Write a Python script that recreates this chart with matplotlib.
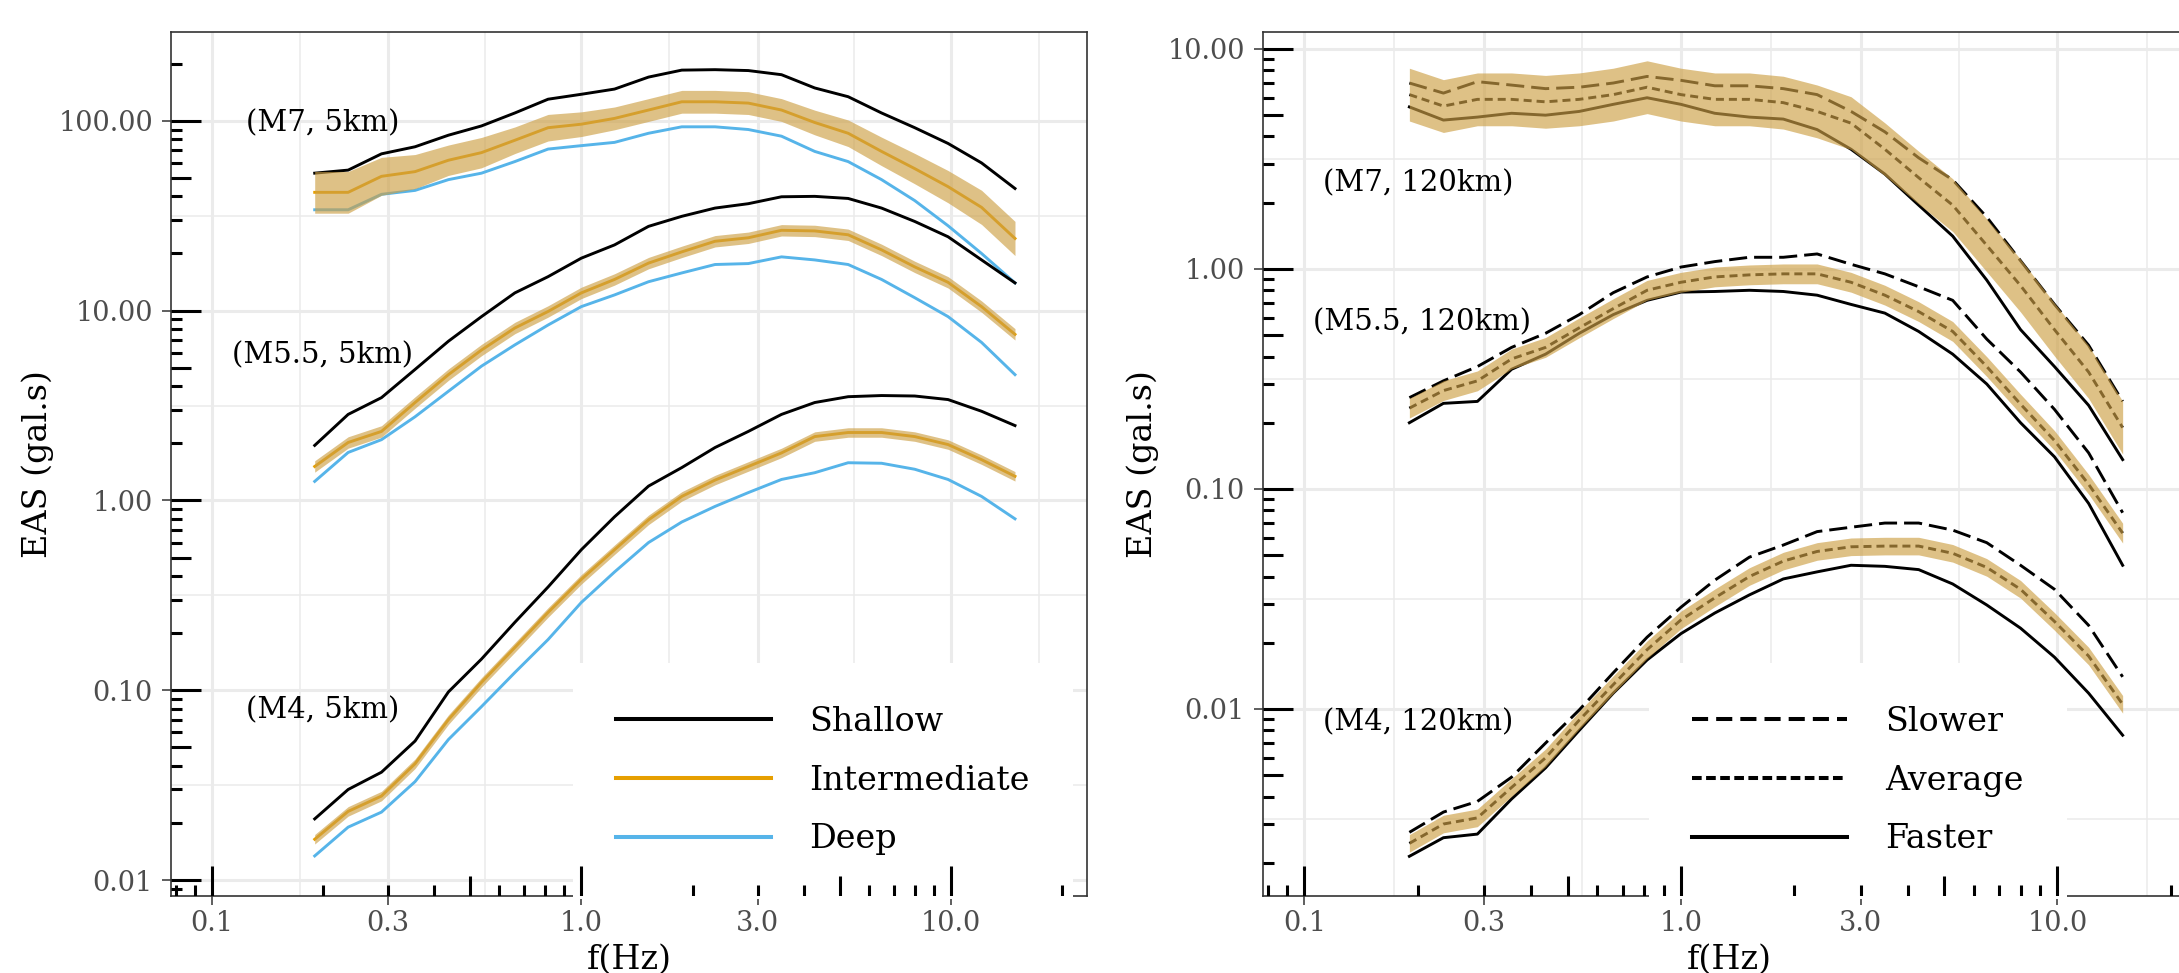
import matplotlib
matplotlib.use("Agg")
import matplotlib.pyplot as plt
from matplotlib.lines import Line2D
import numpy as np

plt.rcParams["font.family"] = ["DejaVu Serif"]

# frequencies (Hz) shared by every curve
freq = [0.19, 0.234, 0.288, 0.355, 0.437, 0.537, 0.661, 0.813, 1.0, 1.23, 1.52,
        1.87, 2.30, 2.83, 3.48, 4.28, 5.27, 6.49, 7.98, 9.82, 12.1, 14.9]

# left panel: 5 km, shallow / intermediate / deep
m7_shallow = [53, 55, 67, 73, 84, 94, 110, 130, 138, 147, 170, 185, 186, 184, 175, 149, 134, 110, 92, 76, 60, 44]
m7_inter = [42, 42, 51, 54, 62, 68, 79, 92, 96, 103, 114, 126, 126, 124, 114, 98, 86, 69, 56, 45, 35, 24]
m7_deep = [34, 34, 41, 43, 49, 53, 61, 71, 74, 77, 86, 93, 93, 90, 83, 69, 61, 49, 38, 28, 20, 14]
m55_shallow = [1.95, 2.84, 3.48, 4.9, 6.9, 9.3, 12.4, 15.1, 18.9, 22.2, 27.8, 31.4, 34.7, 36.6, 39.8, 40, 39, 34.7, 29.5, 24.5, 18.5, 14]
m55_inter = [1.51, 2.02, 2.31, 3.28, 4.6, 6.2, 8.1, 9.9, 12.4, 14.6, 17.8, 20.4, 23.2, 24.2, 26.5, 26.3, 25.1, 20.9, 17.0, 14.1, 10.5, 7.5]
m55_deep = [1.26, 1.79, 2.09, 2.76, 3.76, 5.1, 6.6, 8.4, 10.5, 12.1, 14.2, 15.8, 17.5, 17.7, 19.2, 18.5, 17.5, 14.6, 11.7, 9.3, 6.8, 4.6]
m4_shallow = [0.021, 0.030, 0.037, 0.054, 0.098, 0.146, 0.228, 0.35, 0.55, 0.82, 1.19, 1.49, 1.9, 2.31, 2.84, 3.28, 3.52, 3.57, 3.55, 3.4, 2.95, 2.48]
m4_inter = [0.0164, 0.023, 0.0277, 0.041, 0.070, 0.110, 0.168, 0.257, 0.384, 0.55, 0.79, 1.05, 1.28, 1.51, 1.78, 2.17, 2.28, 2.28, 2.17, 1.97, 1.64, 1.34]
m4_deep = [0.0134, 0.019, 0.0228, 0.033, 0.055, 0.082, 0.124, 0.185, 0.29, 0.42, 0.60, 0.77, 0.93, 1.1, 1.29, 1.4, 1.58, 1.57, 1.46, 1.29, 1.05, 0.80]
# half width of the shaded band, in decades
m7_band_left = [0.11, 0.11, 0.10, 0.09, 0.08, 0.08, 0.07, 0.07, 0.065, 0.06, 0.06,
                0.06, 0.06, 0.06, 0.06, 0.065, 0.07, 0.075, 0.08, 0.085, 0.09, 0.09]
m55_band_left = 0.03
m4_band_left = 0.025

# right panel: 120 km, slower / average / faster
m7_slow = [7.0, 6.3, 7.1, 6.85, 6.6, 6.7, 7.0, 7.5, 7.2, 6.8, 6.8, 6.6, 6.2, 5.2, 4.2, 3.2, 2.54, 1.72, 1.09, 0.69, 0.45, 0.25]
m7_avg = [6.2, 5.5, 5.9, 5.9, 5.75, 5.9, 6.2, 6.7, 6.2, 5.9, 5.9, 5.7, 5.2, 4.6, 3.5, 2.6, 1.95, 1.28, 0.84, 0.53, 0.34, 0.19]
m7_fast = [5.45, 4.75, 4.9, 5.1, 5.0, 5.2, 5.6, 6.0, 5.6, 5.1, 4.9, 4.8, 4.3, 3.5, 2.7, 1.95, 1.41, 0.89, 0.53, 0.36, 0.24, 0.136]
m55_slow = [0.26, 0.31, 0.36, 0.44, 0.51, 0.62, 0.78, 0.92, 1.02, 1.08, 1.13, 1.13, 1.17, 1.05, 0.95, 0.83, 0.72, 0.48, 0.34, 0.23, 0.146, 0.078]
m55_avg = [0.233, 0.28, 0.31, 0.39, 0.44, 0.54, 0.66, 0.80, 0.87, 0.92, 0.94, 0.95, 0.95, 0.87, 0.76, 0.64, 0.52, 0.36, 0.243, 0.166, 0.105, 0.063]
m55_fast = [0.2, 0.245, 0.25, 0.35, 0.41, 0.51, 0.62, 0.72, 0.785, 0.79, 0.80, 0.79, 0.76, 0.69, 0.63, 0.52, 0.41, 0.30, 0.20, 0.14, 0.086, 0.045]
m4_slow = [0.00275, 0.0034, 0.0038, 0.0049, 0.007, 0.0099, 0.0146, 0.0212, 0.029, 0.0385, 0.049, 0.0556, 0.064, 0.067, 0.070, 0.070, 0.065, 0.057, 0.045, 0.035, 0.024, 0.014]
m4_avg = [0.00245, 0.003, 0.0032, 0.0044, 0.006, 0.0089, 0.0129, 0.0186, 0.0254, 0.032, 0.040, 0.047, 0.052, 0.0546, 0.055, 0.055, 0.051, 0.044, 0.035, 0.025, 0.0174, 0.0105]
m4_fast = [0.00214, 0.0026, 0.0027, 0.0039, 0.0054, 0.008, 0.0118, 0.0167, 0.022, 0.0273, 0.033, 0.039, 0.042, 0.045, 0.0445, 0.043, 0.037, 0.0297, 0.0233, 0.0172, 0.0118, 0.0076]
m7_band_right = 0.12
m55_band_right = 0.045
m4_band_right = 0.04

labels_left = ["(M7, 5km)", "(M5.5, 5km)", "(M4, 5km)"]
labels_right = ["(M7, 120km)", "(M5.5, 120km)", "(M4, 120km)"]
label_pos_left = [(0.20, 97), (0.20, 5.8), (0.20, 0.078)]
label_pos_right = [(0.20, 2.46), (0.205, 0.575), (0.20, 0.0087)]

x_breaks = [0.1, 0.3, 1.0, 3.0, 10.0]
x_break_labels = ["0.1", "0.3", "1.0", "3.0", "10.0"]
x_minor_grid = [0.1732, 0.5477, 1.732, 5.477, 17.32]

SHALLOW, INTER, DEEP = "black", "#E69F00", "#56B4E9"
BAND = "#CDA046"
W, H = 2179, 973
LW = 2.1
DASHED = (0, (6.2, 2.4))
DOTTED = (0, (2.75, 1.7))
LEG_DASHED = (0, (4.0, 2.0))
LEG_DOTTED = (0, (2.4, 1.1))


def band(ax, center, half):
    c = np.array(center, dtype=float)
    h = np.array(half, dtype=float) * np.ones(len(c))
    ax.fill_between(freq, c / 10 ** h, c * 10 ** h, color=BAND, alpha=0.65,
                    lw=0, zorder=4)


def style(ax, ylim, y_breaks, y_minor_grid, w_px, h_px):
    ax.set_xscale("log")
    ax.set_yscale("log")
    ax.set_xlim(10 ** -1.11, 10 ** 1.368)
    ax.set_ylim(*ylim)
    ax.set_xticks(x_breaks)
    ax.set_xticklabels(x_break_labels)
    ax.set_yticks(y_breaks)
    ax.set_yticklabels(["%.2f" % v for v in y_breaks])
    ax.set_xticks(x_minor_grid, minor=True)
    ax.set_yticks(y_minor_grid, minor=True)
    ax.tick_params(which="major", direction="out", length=6.5, width=1.1,
                   color="#333333", labelcolor="#4D4D4D", labelsize=19.5)
    ax.tick_params(axis="x", which="major", pad=3.5)
    ax.tick_params(axis="y", which="major", pad=6.5)
    ax.tick_params(which="minor", length=0)
    ax.grid(which="major", color="#EBEBEB", lw=2.2)
    ax.grid(which="minor", color="#EBEBEB", lw=1.1)
    ax.set_axisbelow(True)
    for sp in ax.spines.values():
        sp.set_color("#333333")
        sp.set_linewidth(1.2)
    ax.set_xlabel("f(Hz)", fontsize=24)
    ax.set_ylabel("EAS (gal.s)", fontsize=24)
    ax.xaxis.set_label_coords(0.5, -0.055)

    # annotation_logticks style marks on bottom and left
    x0, x1 = ax.get_xlim()
    y0, y1 = ax.get_ylim()
    for e in range(-4, 3):
        for k in range(1, 10):
            v = k * 10.0 ** e
            length = 30 if k == 1 else (20 if k == 5 else 11)
            if x0 <= v <= x1:
                ax.vlines(v, 0, length / h_px, transform=ax.get_xaxis_transform(),
                          colors="black", lw=2.2, zorder=6)
            if y0 <= v <= y1:
                ax.hlines(v, 0, length / w_px, transform=ax.get_yaxis_transform(),
                          colors="black", lw=2.2, zorder=6)


def add_legend(ax, handles, names, x_px, left_px, w_px):
    leg = ax.legend(handles, names, loc="upper left",
                    bbox_to_anchor=((x_px - left_px) / w_px, (896 - 646) / 864),
                    fontsize=24, frameon=True, facecolor="white", edgecolor="none",
                    framealpha=1, fancybox=False, borderpad=1.3, labelspacing=0.8,
                    handlelength=4.65, handletextpad=1.15)
    # above the grid, below the curves
    leg.set_zorder(2.5)


fig = plt.figure(figsize=(W / 100, H / 100), dpi=100)
axl = fig.add_axes([171 / W, (H - 896) / H, 916 / W, 864 / H])
axr = fig.add_axes([1263 / W, (H - 896) / H, 933 / W, 864 / H])

# left panel
for sh, it, dp, hw in [(m7_shallow, m7_inter, m7_deep, m7_band_left),
                       (m55_shallow, m55_inter, m55_deep, m55_band_left),
                       (m4_shallow, m4_inter, m4_deep, m4_band_left)]:
    axl.plot(freq, sh, color=SHALLOW, lw=LW, zorder=3)
    axl.plot(freq, dp, color=DEEP, lw=LW, zorder=3)
    axl.plot(freq, it, color=INTER, lw=LW, zorder=3)
    band(axl, it, hw)
for txt, (x, y) in zip(labels_left, label_pos_left):
    axl.text(x, y, txt, fontsize=21, ha="center", va="center", zorder=7)
style(axl, (10 ** -2.084, 10 ** 2.468), [0.01, 0.1, 1, 10, 100],
      [0.03162, 0.3162, 3.162, 31.62], 916, 864)
axl.yaxis.set_label_coords(-0.128, 0.5)

handles = [Line2D([], [], color=SHALLOW, lw=2.9),
           Line2D([], [], color=INTER, lw=2.9),
           Line2D([], [], color=DEEP, lw=2.9)]
add_legend(axl, handles, ["Shallow", "Intermediate", "Deep"], 556, 171, 916)

# right panel
for sl, av, fa, hw in [(m7_slow, m7_avg, m7_fast, m7_band_right),
                       (m55_slow, m55_avg, m55_fast, m55_band_right),
                       (m4_slow, m4_avg, m4_fast, m4_band_right)]:
    axr.plot(freq, sl, color="black", lw=LW, ls=DASHED, zorder=3)
    axr.plot(freq, av, color="black", lw=LW, ls=DOTTED, zorder=3)
    axr.plot(freq, fa, color="black", lw=LW, zorder=3)
    band(axr, av, hw)
for txt, (x, y) in zip(labels_right, label_pos_right):
    axr.text(x, y, txt, fontsize=21, ha="center", va="center", zorder=7)
style(axr, (10 ** -2.85, 10 ** 1.077), [0.01, 0.1, 1, 10],
      [0.003162, 0.03162, 0.3162, 3.162], 933, 864)
axr.yaxis.set_label_coords(-0.112, 0.5)

handles = [Line2D([], [], color="black", lw=2.9, ls=LEG_DASHED),
           Line2D([], [], color="black", lw=2.9, ls=LEG_DOTTED),
           Line2D([], [], color="black", lw=2.9)]
add_legend(axr, handles, ["Slower", "Average", "Faster"], 1632, 1263, 933)

fig.savefig("out.png", dpi=100)
